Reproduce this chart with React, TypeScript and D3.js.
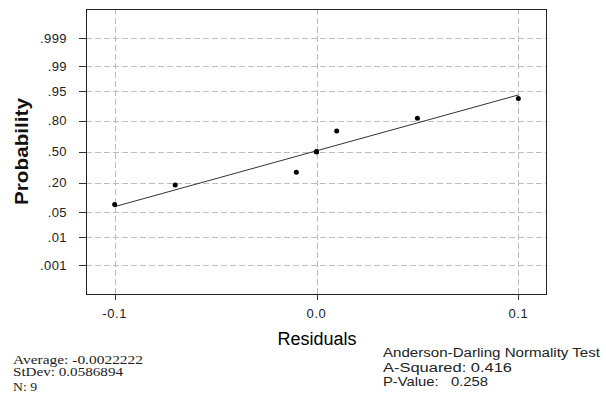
import React from 'react'
import * as d3 from 'd3'

// residuals (sorted) and their plotted probabilities (ties share the mean rank)
const residuals = [-0.1, -0.07, -0.01, 0.0, 0.0, 0.0, 0.01, 0.05, 0.1]
const probabilities = [0.0745, 0.181, 0.287, 0.5, 0.5, 0.5, 0.713, 0.819, 0.926]
// fitted line ends
const fitX = [-0.1, 0.1]
const fitP = [0.067, 0.939]

const probTicks = [0.001, 0.01, 0.05, 0.2, 0.5, 0.8, 0.95, 0.99, 0.999]
const probTickLabels = ['.001', '.01', '.05', '.20', '.50', '.80', '.95', '.99', '.999']
const xTicks = [-0.1, 0.0, 0.1]
const xTickLabels = ['-0.1', '0.0', '0.1']

const statsLeft = ['Average: -0.0022222', 'StDev: 0.0586894', 'N: 9']
const statsRight = ['Anderson-Darling Normality Test', 'A-Squared: 0.416', 'P-Value:   0.258']

// inverse normal cdf (Acklam)
const normInv = (p: number) => {
  const a = [-39.69683028665376, 220.9460984245205, -275.9285104469687, 138.357751867269, -30.66479806614716, 2.506628277459239]
  const b = [-54.47609879822406, 161.5858368580409, -155.6989798598866, 66.80131188771972, -13.28068155288572]
  const c = [-0.007784894002430293, -0.3223964580411365, -2.400758277161838, -2.549732539343734, 4.374664141464968, 2.938163982698783]
  const d = [0.007784695709041462, 0.3224671290700398, 2.445134137142996, 3.754408661907416]
  const plow = 0.02425
  if (p < plow) {
    const q = Math.sqrt(-2 * Math.log(p))
    return (((((c[0] * q + c[1]) * q + c[2]) * q + c[3]) * q + c[4]) * q + c[5]) / ((((d[0] * q + d[1]) * q + d[2]) * q + d[3]) * q + 1)
  }
  if (p <= 1 - plow) {
    const q = p - 0.5
    const r = q * q
    return (((((a[0] * r + a[1]) * r + a[2]) * r + a[3]) * r + a[4]) * r + a[5]) * q / (((((b[0] * r + b[1]) * r + b[2]) * r + b[3]) * r + b[4]) * r + 1)
  }
  const q = Math.sqrt(-2 * Math.log(1 - p))
  return -(((((c[0] * q + c[1]) * q + c[2]) * q + c[3]) * q + c[4]) * q + c[5]) / ((((d[0] * q + d[1]) * q + d[2]) * q + d[3]) * q + 1)
}

const W = 606
const H = 405
const left = 86, right = 546, top = 9, bottom = 294

const App = () => {
  const x = d3.scaleLinear().domain([-0.1142, 0.1137]).range([left, right])
  const zScale = d3.scaleLinear().domain([-3.88, 3.89]).range([bottom, top])
  const y = (p: number) => zScale(normInv(p))

  const line = d3.line<number>()
    .x((d) => x(d))
    .y((d, i) => y(fitP[i]))

  const sans = 'Arial, "Liberation Sans", sans-serif'
  const serif = '"Liberation Serif", "Times New Roman", serif'
  const gridColor = '#bdbdbd'
  const leftLens = [130, 110, 24]
  const rightLens = [217, 129, 105]

  return (
    <svg width={W} height={H} style={{ position: 'absolute', left: 0, top: 0, background: '#fff' }}>
      <rect x={0} y={0} width={W} height={H} fill="#fff" />
      {/* grid */}
      {probTicks.map((p) => (
        <line key={'gy' + p} x1={left} x2={right} y1={Math.round(y(p)) + 0.5} y2={Math.round(y(p)) + 0.5}
          stroke={gridColor} strokeDasharray="6,3" />
      ))}
      {xTicks.map((t) => (
        <line key={'gx' + t} x1={Math.round(x(t)) + 0.5} x2={Math.round(x(t)) + 0.5} y1={top} y2={bottom}
          stroke={gridColor} strokeDasharray="6,3" />
      ))}
      {/* frame */}
      <rect x={left + 0.5} y={top + 0.5} width={right - left} height={bottom - top} fill="none" stroke="#222" />
      {/* y ticks */}
      {probTicks.map((p, i) => (
        <g key={'ty' + p}>
          <line x1={79} x2={left} y1={Math.round(y(p)) + 0.5} y2={Math.round(y(p)) + 0.5} stroke="#333" />
          <text x={67} y={y(p) + 4.5} textAnchor="end" fontFamily={sans} fontSize={13} letterSpacing={0.4} fill="#222">{probTickLabels[i]}</text>
        </g>
      ))}
      {/* x ticks */}
      {xTicks.map((t, i) => (
        <g key={'tx' + t}>
          <line x1={Math.round(x(t)) + 0.5} x2={Math.round(x(t)) + 0.5} y1={bottom} y2={bottom + 6} stroke="#333" />
          <text x={x(t)} y={318} textAnchor="middle" fontFamily={sans} fontSize={13} letterSpacing={0.6} fill="#222">{xTickLabels[i]}</text>
        </g>
      ))}
      {/* fit line */}
      <path d={line(fitX) || ''} fill="none" stroke="#333" strokeWidth={1} />
      {/* points */}
      {residuals.map((r, i) => (
        <circle key={'pt' + i} cx={x(r)} cy={y(probabilities[i])} r={2.5} fill="#000" />
      ))}
      {/* axis titles */}
      <text x={317} y={345} textAnchor="middle" fontFamily={sans} fontSize={18} fill="#000">Residuals</text>
      <text transform="translate(28,151.5) rotate(-90)" textAnchor="middle" fontFamily={sans} fontSize={18}
        fontWeight="bold" textLength={107} lengthAdjust="spacingAndGlyphs" fill="#111">Probability</text>
      {/* stats */}
      {statsLeft.map((s, i) => (
        <text key={'sl' + i} x={13} y={[364, 376, 391][i]} fontFamily={serif} fontSize={11.5}
          textLength={leftLens[i]} lengthAdjust="spacingAndGlyphs" fill="#222">{s}</text>
      ))}
      {statsRight.map((s, i) => (
        <text key={'sr' + i} x={383} y={[357, 372, 386][i]} fontFamily={sans} fontSize={12.5}
          textLength={rightLens[i]} lengthAdjust="spacingAndGlyphs" fill="#222" style={{ whiteSpace: 'pre' }}>{s}</text>
      ))}
    </svg>
  )
}

export default App
